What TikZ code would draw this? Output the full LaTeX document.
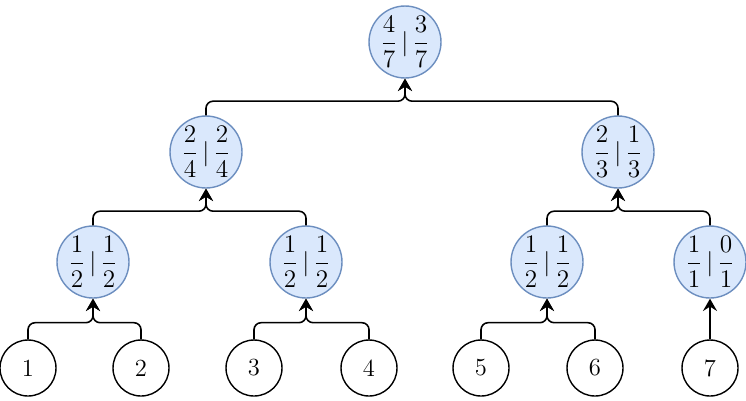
\documentclass[tikz,border=0pt]{standalone}
\usepackage{amsmath}
\definecolor{nodefill}{HTML}{DAE8FC}
\definecolor{nodeline}{HTML}{6C8EBF}
\usetikzlibrary{arrows.meta}

\begin{document}
\begin{tikzpicture}[x=0.02cm,y=-0.02cm,
      fr/.style={circle,draw=nodeline,fill=nodefill,line width=0.8pt,
                 minimum size=1.44cm,inner sep=0pt,font=\fontsize{14}{17}\selectfont},
      lf/.style={circle,draw=black,line width=0.8pt,
                 minimum size=1.12cm,inner sep=0pt,font=\fontsize{14}{17}\selectfont},
      arr/.style={-{Stealth[length=7pt,width=8pt,inset=2.5pt]},
                  line width=0.9pt,rounded corners=4pt}]
      \useasboundingbox (0,0) rectangle (746,400);
      % Row 0
      \node[fr] (r) at (405,42) {$\dfrac{4}{7}\,|\,\dfrac{3}{7}$};
      % Row 1
      \node[fr] (a) at (206,152) {$\dfrac{2}{4}\,|\,\dfrac{2}{4}$};
      \node[fr] (b) at (618,152) {$\dfrac{2}{3}\,|\,\dfrac{1}{3}$};
      % Row 2
      \node[fr] (aa) at (93,262) {$\dfrac{1}{2}\,|\,\dfrac{1}{2}$};
      \node[fr] (ab) at (306,262) {$\dfrac{1}{2}\,|\,\dfrac{1}{2}$};
      \node[fr] (ba) at (547,262) {$\dfrac{1}{2}\,|\,\dfrac{1}{2}$};
      \node[fr] (bb) at (710,262) {$\dfrac{1}{1}\,|\,\dfrac{0}{1}$};
      % Leaves
      \node[lf] (l1) at (28,368) {1};
      \node[lf] (l2) at (141,368) {2};
      \node[lf] (l3) at (254,368) {3};
      \node[lf] (l4) at (369,368) {4};
      \node[lf] (l5) at (481,368) {5};
      \node[lf] (l6) at (595,368) {6};
      \node[lf] (l7) at (710,368) {7};
      % Edges
      \draw[arr] (a.north) |- ([yshift=-0.45cm]r.south) -- (r.south);
      \draw[arr] (b.north) |- ([yshift=-0.45cm]r.south) -- (r.south);
      \draw[arr] (aa.north) |- ([yshift=-0.45cm]a.south) -- (a.south);
      \draw[arr] (ab.north) |- ([yshift=-0.45cm]a.south) -- (a.south);
      \draw[arr] (ba.north) |- ([yshift=-0.45cm]b.south) -- (b.south);
      \draw[arr] (bb.north) |- ([yshift=-0.45cm]b.south) -- (b.south);
      \draw[arr] (l1.north) |- ([yshift=-0.48cm]aa.south) -- (aa.south);
      \draw[arr] (l2.north) |- ([yshift=-0.48cm]aa.south) -- (aa.south);
      \draw[arr] (l3.north) |- ([yshift=-0.48cm]ab.south) -- (ab.south);
      \draw[arr] (l4.north) |- ([yshift=-0.48cm]ab.south) -- (ab.south);
      \draw[arr] (l5.north) |- ([yshift=-0.48cm]ba.south) -- (ba.south);
      \draw[arr] (l6.north) |- ([yshift=-0.48cm]ba.south) -- (ba.south);
      \draw[arr] (l7) -- (bb);
\end{tikzpicture}
\end{document}
